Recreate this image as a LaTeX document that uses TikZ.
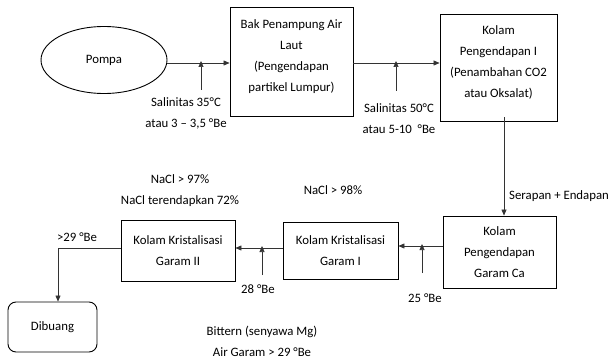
\documentclass[tikz,border=0pt]{standalone}
\usepackage{fontspec}
\setmainfont{Carlito}
\usetikzlibrary{shapes.geometric,arrows.meta}
\begin{document}
\begin{tikzpicture}[x=1pt,y=-1pt,
  every node/.style={font=\fontsize{12.8}{21}\selectfont, text=black},
  box/.style={draw, line width=0.9pt, align=center, inner sep=0pt},
  lbl/.style={align=center, inner sep=0pt},
  flow/.style={line width=0.6pt, draw=black!80, -{Triangle[length=6pt,width=5pt]}},
  feed/.style={line width=0.6pt, draw=black!80, -{Triangle[length=6pt,width=5pt]}}]
\useasboundingbox (0,0) rectangle (612,358);

% process units
\node[box, ellipse, minimum width=126pt, minimum height=67pt] (pompa) at (104,60) {Pompa};
\node[box, minimum width=123pt, minimum height=109pt] (bak) at (291.5,61.5) {};
\node[lbl] (bakt) at ([yshift=5pt]bak.center)
  {Bak Penampung Air\\Laut\\(Pengendapan\\partikel Lumpur)};
\node[box, minimum width=117pt, minimum height=107pt] (k1) at (498.5,67.5) {};
\node[lbl] (k1t) at ([yshift=5pt]k1.center)
  {Kolam\\Pengendapan I\\(Penambahan CO2\\atau Oksalat)};
\node[box, minimum width=113pt, minimum height=72pt] (ca) at (499.5,252)
  {Kolam\\Pengendapan\\Garam Ca};
\node[box, minimum width=115pt, minimum height=57pt] (kr1) at (340.5,250.5)
  {Kolam Kristalisasi\\Garam I};
\node[box, minimum width=114pt, minimum height=61pt] (kr2) at (178,250.5)
  {Kolam Kristalisasi\\Garam II};
\node[box, rounded corners=8pt, minimum width=89pt, minimum height=50pt] (dibuang) at (52.5,327)
  {Dibuang};

% junction points of the feed arrows
\coordinate (j1) at (201,63);
\coordinate (j2) at (396,63);
\coordinate (j3) at (422,246);
\coordinate (j4) at (262,248);
\coordinate (f1) at (201,90);
\coordinate (f2) at (396,91);
\coordinate (f3) at (422,273);
\coordinate (f4) at (262,275);
\coordinate (bend) at (58,248);
\coordinate (vx) at (504,0);

% main flow
\draw[flow] (pompa.east |- j1) -- (bak.west |- j1);
\draw[flow] (bak.east |- j2) -- (k1.west |- j2);
\draw[flow] ([yshift=4pt]k1.south -| vx) -- (ca.north -| vx);
\draw[flow] (ca.west |- j3) -- (kr1.east |- j3);
\draw[flow] (kr1.west |- j4) -- (kr2.east |- j4);
\draw[flow] (kr2.west |- bend) -- (bend) -- (dibuang.north -| bend);

% feed arrows
\draw[feed] (f1) -- ([yshift=2pt]j1);
\draw[feed] (f2) -- ([yshift=2pt]j2);
\draw[feed] (f3) -- ([yshift=2pt]j3);
\draw[feed] (f4) -- ([yshift=2pt]j4);

% labels
\node[lbl] (t1) at (186,113) {Salinitas 35°C\\atau 3 – 3,5 °Be};
\node[lbl] (t2) at (399,119) {Salinitas 50°C\\atau 5-10~ °Be};
\node[lbl, anchor=west] (t3) at (509,196) {Serapan + Endapan};
\node[lbl] (t4) at (425,298) {25 °Be};
\node[lbl] (t5) at (258,289) {28 °Be};
\node[lbl] (t6) at (333,190) {NaCl > 98\%};
\node[lbl] (t7) at (180,191) {NaCl > 97\%\\NaCl terendapkan 72\%};
\node[lbl] (t8) at (77,237) {>29 °Be};
\node[lbl] (t9) at (262,341) {Bittern (senyawa Mg)\\Air Garam > 29 °Be};
\end{tikzpicture}
\end{document}
